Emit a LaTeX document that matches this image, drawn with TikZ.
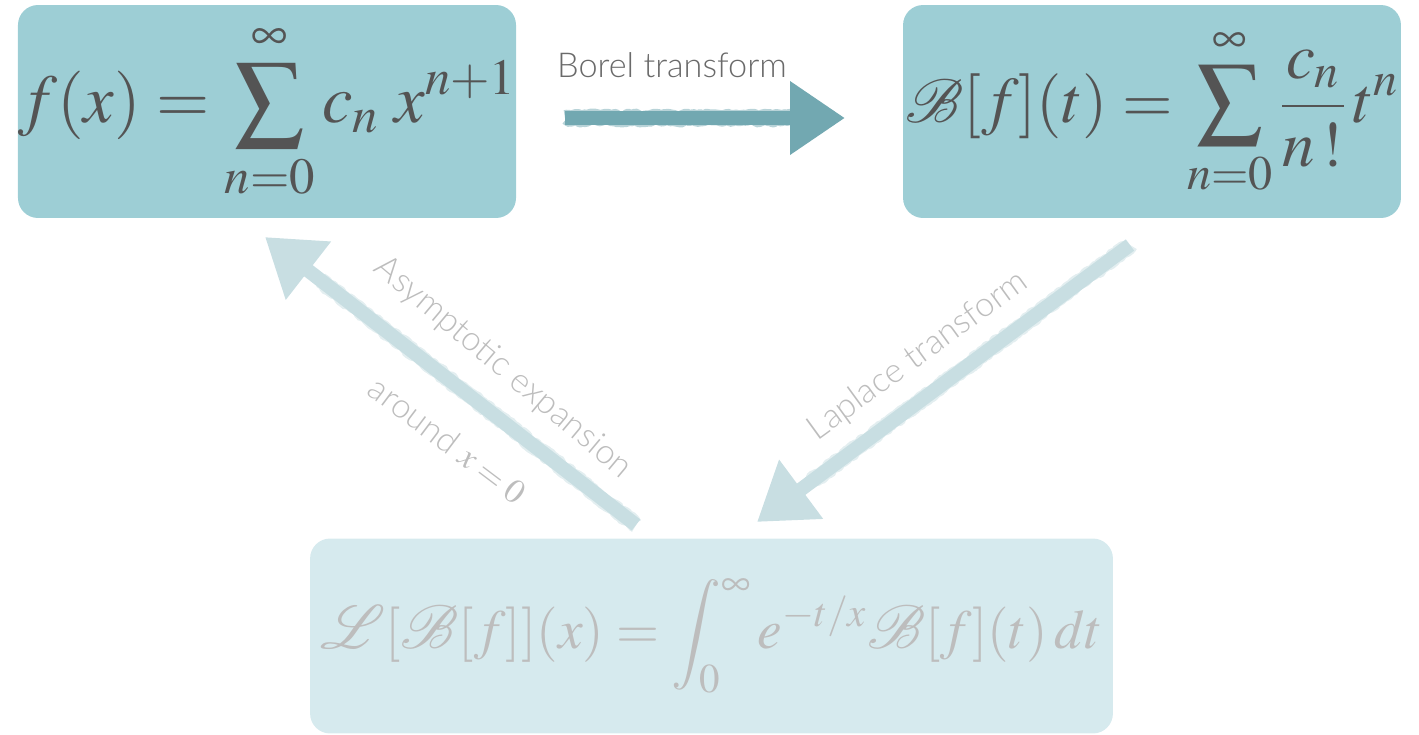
\documentclass[tikz,border=0pt]{standalone}
\usepackage{mathptmx}
\usepackage{mathrsfs}
\usepackage[no-math]{fontspec}
\newfontfamily\labelfont{Lato Light}
\definecolor{boxdark}{HTML}{9DCED5}
\definecolor{boxlight}{HTML}{D6EAEE}
\definecolor{arrowdark}{HTML}{72A8B1}
\definecolor{arrowlight}{HTML}{C8DEE2}
\definecolor{inkdark}{HTML}{545454}
\definecolor{inklight}{HTML}{BDBDBD}
\definecolor{labeldark}{HTML}{6A6A6A}
\newcommand{\bigscr}[1]{\scalebox{1.4}{$\mathscr{#1}$}}
\usetikzlibrary{arrows.meta, calc, decorations.pathmorphing}

\begin{document}
\begin{tikzpicture}[
  x=0.02cm, y=-0.02cm,
  formula/.style={
    rounded corners=0.4cm, inner sep=0pt,
    font=\fontsize{39}{44}\selectfont
  },
  chalk/.style={
    line width=8pt,
    -{Triangle[length=1.1cm, width=1.4cm]}
  },
  rough/.style={
    line width=9pt, opacity=0.5, line join=round,
    decorate, decoration={random steps, segment length=1.5pt, amplitude=0.9pt}
  },
  arrowlabel/.style={font=\labelfont\fontsize{19.5}{22}\selectfont, text=inklight}
]
  \useasboundingbox (0,0) rectangle (1419,734);

  % the three boxes
  \node[formula, fill=boxdark, text=inkdark,
        minimum width=9.96cm, minimum height=4.26cm]
    (series) at (267,111.5)
    {$\displaystyle f(x) = \sum_{n=0}^{\infty} c_n\; x^{n+1}$};
  \node[formula, fill=boxdark, text=inkdark,
        minimum width=9.96cm, minimum height=4.26cm,
        font=\fontsize{37}{42}\selectfont]
    (borel) at (1152,111.5)
    {$\displaystyle \bigscr{B}[f](t) = \sum_{n=0}^{\infty} \frac{c_n}{n\,!}\, t^n$};
  \node[formula, fill=boxlight, text=inklight,
        minimum width=16.06cm, minimum height=3.9cm,
        font=\fontsize{31.5}{36}\selectfont]
    (laplace) at (711.5,636)
    {$\displaystyle \bigscr{L}[\bigscr{B}[f]](x) = \int_0^\infty e^{-t/x}\bigscr{B}[f](t)\,dt$};

  % arrow ends
  \coordinate (borelS) at (565,118);
  \coordinate (borelE) at (845,118);
  \coordinate (asymS) at (636,525);
  \coordinate (asymE) at (265,237);
  \coordinate (lapS) at (1130,245);
  \coordinate (lapE) at (757,522);

  \draw[chalk, arrowdark] (borelS) -- (borelE);
  \draw[rough, arrowdark] (borelS) -- ($(borelS)!0.85!(borelE)$);
  \draw[chalk, arrowlight] (asymS) -- (asymE);
  \draw[rough, arrowlight] (asymS) -- ($(asymS)!0.85!(asymE)$);
  \draw[chalk, arrowlight] (lapS) -- (lapE);
  \draw[rough, arrowlight] (lapS) -- ($(lapS)!0.85!(lapE)$);

  % labels
  \node[arrowlabel, text=labeldark] (borelL) at (672,65) {Borel transform};
  \node[arrowlabel, rotate=-40] (asymL) at (503,368) {Asymptotic expansion};
  \node[arrowlabel, rotate=-37] (asymL2) at (448,440) {around $x=0$};
  \node[arrowlabel, rotate=36] (lapL) at (918,356) {Laplace transform};
\end{tikzpicture}
\end{document}
